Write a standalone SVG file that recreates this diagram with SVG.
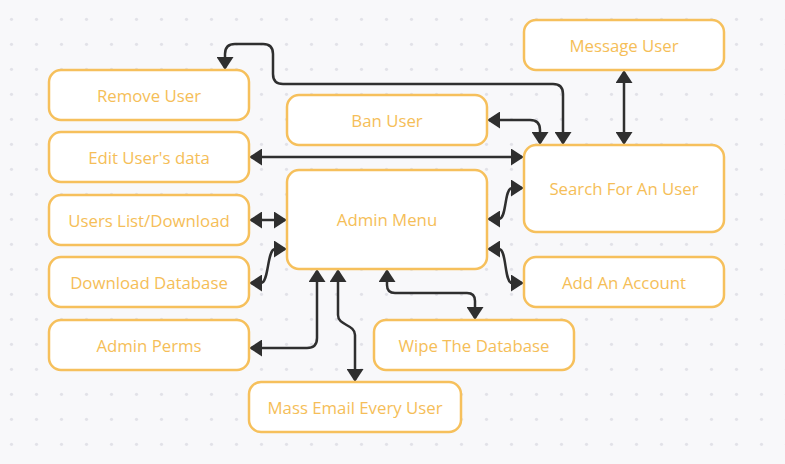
<svg xmlns="http://www.w3.org/2000/svg" width="785" height="464" viewBox="0 0 785 464">
<defs>
<pattern id="dots" x="0" y="0" width="25" height="25" patternUnits="userSpaceOnUse">
<circle cx="11.5" cy="19.3" r="1.6" fill="#e2e2e8"/>
</pattern>
<marker id="arr" markerUnits="userSpaceOnUse" viewBox="0 0 13 17" markerWidth="13" markerHeight="17" refX="11" refY="8.5" orient="auto-start-reverse">
<path d="M0,0 L13,8.5 L0,17 Z" fill="#2f2f2f"/>
</marker>
<style>
.node rect{fill:#ffffff;stroke:#f6c05c;stroke-width:2.5}
.node text{fill:#f5be58;font-family:"Open Sans","Noto Sans","DejaVu Sans",sans-serif;font-size:16.8px;text-anchor:middle;dominant-baseline:central}
.edge{fill:none;stroke:#2f2f2f;stroke-width:2.5;marker-start:url(#arr);marker-end:url(#arr)}
</style>
</defs>
<rect width="785" height="464" fill="#f8f8fa"/>
<rect width="785" height="464" fill="url(#dots)"/>

<g id="connectors">
<path class="edge" d="M225,68 V54 Q225,44 235,44 H263 Q273,44 273,54 V74 Q273,84 283,84 H553 Q563,84 563,94 V143"/>
<path class="edge" d="M489,120 H530 Q540,120 540,130 V143"/>
<path class="edge" d="M251,157 H522"/>
<path class="edge" d="M624,72 V143"/>
<path class="edge" d="M489,219 H499 C507,219 504,188 512,188 H522"/>
<path class="edge" d="M489,249 H499 C507,249 504,283 512,283 H522"/>
<path class="edge" d="M251,220 H285"/>
<path class="edge" d="M251,283 H261 C269,283 267,249 275,249 H285"/>
<path class="edge" d="M251,348 H307 Q317,348 317,338 V271"/>
<path class="edge" d="M338,271 V315 C338,326 355,324 355,335 V380"/>
<path class="edge" d="M387,271 V285 Q387,293 395,293 H467 Q475,293 475,301 V318"/>
</g>

<g id="message-user" class="node"><rect x="524" y="20" width="200" height="50" rx="12"/><text x="624" y="45">Message User</text></g>
<g id="remove-user" class="node"><rect x="49" y="70" width="200" height="50" rx="12"/><text x="149" y="95">Remove User</text></g>
<g id="ban-user" class="node"><rect x="287" y="95" width="200" height="50" rx="12"/><text x="387" y="120">Ban User</text></g>
<g id="edit-user-data" class="node"><rect x="49" y="132" width="200" height="50" rx="12"/><text x="149" y="157">Edit User's data</text></g>
<g id="search-user" class="node"><rect x="524" y="145" width="200" height="87" rx="12"/><text x="624" y="188.5">Search For An User</text></g>
<g id="admin-menu" class="node"><rect x="287" y="170" width="200" height="99" rx="12"/><text x="387" y="219.5">Admin Menu</text></g>
<g id="users-list" class="node"><rect x="49" y="195" width="200" height="50" rx="12"/><text x="149" y="220">Users List/Download</text></g>
<g id="download-db" class="node"><rect x="49" y="257" width="200" height="50" rx="12"/><text x="149" y="282">Download Database</text></g>
<g id="add-account" class="node"><rect x="524" y="257" width="200" height="50" rx="12"/><text x="624" y="282">Add An Account</text></g>
<g id="admin-perms" class="node"><rect x="49" y="320" width="200" height="50" rx="12"/><text x="149" y="345">Admin Perms</text></g>
<g id="wipe-db" class="node"><rect x="374" y="320" width="200" height="50" rx="12"/><text x="474" y="345">Wipe The Database</text></g>
<g id="mass-email" class="node"><rect x="249" y="382" width="212" height="50" rx="12"/><text x="355" y="407">Mass Email Every User</text></g>
</svg>
